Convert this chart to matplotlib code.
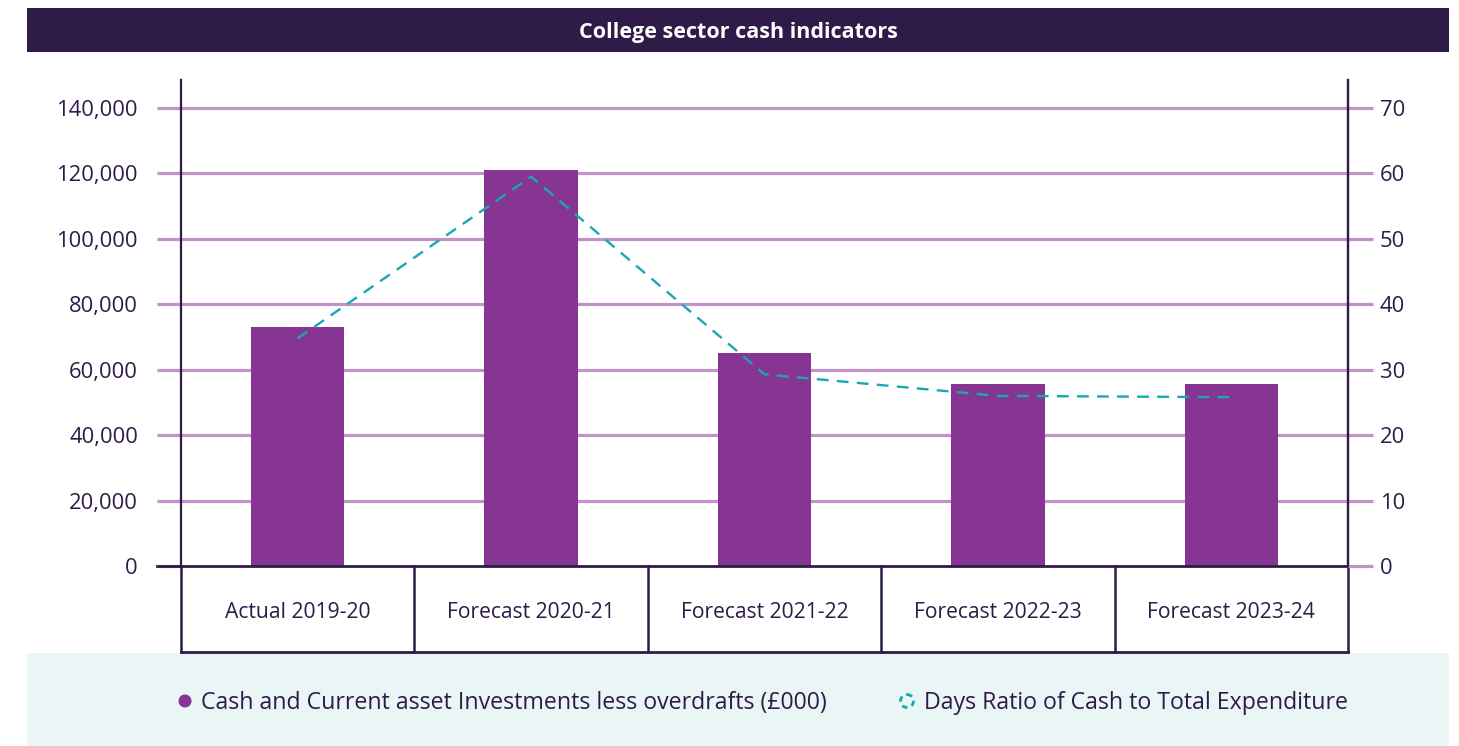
import matplotlib
matplotlib.use("Agg")
import matplotlib.pyplot as plt
from matplotlib.patches import Rectangle, Circle
from matplotlib.ticker import FuncFormatter
import numpy as np

plt.rcParams['font.family'] = ['Open Sans', 'DejaVu Sans']

categories = ["Actual 2019-20", "Forecast 2020-21", "Forecast 2021-22",
              "Forecast 2022-23", "Forecast 2023-24"]
cash_values = [73200, 121200, 65000, 55500, 55500]
days_ratio = [34.8, 59.5, 29.3, 26.0, 25.8]
left_ticks = [0, 20000, 40000, 60000, 80000, 100000, 120000, 140000]
right_ticks = [0, 10, 20, 30, 40, 50, 60, 70]
title = "College sector cash indicators"
legend_labels = ["Cash and Current asset Investments less overdrafts (£000)",
                 "Days Ratio of Cash to Total Expenditure"]

DARK = "#2F1B47"
BAR = "#873593"
GRID = "#C193C9"
TEAL = "#19A7B1"
BAND = "#EAF6F6"

W, H = 1459, 746
fig = plt.figure(figsize=(W / 100, H / 100), dpi=100)
fig.patch.set_facecolor("white")

def fx(px):
    return px / W

def fy(py):
    return 1 - py / H

# Title bar
tb = fig.add_axes([fx(27), fy(52), fx(1449) - fx(27), fy(8) - fy(52)])
tb.set_xlim(0, 1); tb.set_ylim(0, 1); tb.axis("off")
tb.add_patch(Rectangle((0, 0), 1, 1, facecolor=DARK, edgecolor="none"))
tb.text(0.5, 0.45, title, color="white", fontsize=15.5, fontweight="bold",
        ha="center", va="center")

# Legend band
lb = fig.add_axes([fx(27), fy(746), fx(1449) - fx(27), fy(653) - fy(746)])
lb.axis("off")
lb.add_patch(Rectangle((27, 653), 1422, 93, facecolor=BAND, edgecolor="none"))
lb.set_aspect("equal", adjustable="datalim")
lb.set_xlim(27, 1449); lb.set_ylim(746, 653)
lb.add_patch(Circle((185, 701), 6.5, facecolor=BAR, edgecolor="none"))
lb.text(201, 703, legend_labels[0], color=DARK, fontsize=16.7, ha="left", va="center")
lb.add_patch(Circle((907, 701), 6.5, facecolor="none", edgecolor=TEAL,
                    linewidth=2, linestyle=(0, (2, 1.6))))
lb.text(924, 703, legend_labels[1], color=DARK, fontsize=16.7, ha="left", va="center")

# Main axes
y_top_px, y0_px, y140_px = 80, 566, 108
scale = (y0_px - y140_px) / 140000
ymax = (y0_px - y_top_px) / scale
ax = fig.add_axes([fx(181), fy(566), fx(1348) - fx(181), fy(y_top_px) - fy(566)])
ax.set_facecolor("none")
x = np.arange(len(categories))
ax.set_xlim(-0.5, len(categories) - 0.5)
ax.set_ylim(0, ymax)
ax.set_yticks(left_ticks)
ax.yaxis.set_major_formatter(FuncFormatter(lambda v, p: f"{int(v):,}"))
for t in left_ticks[1:]:
    ax.axhline(t, color=GRID, linewidth=2.3, zorder=0.5)
ax.bar(x, cash_values, width=0.4, color=BAR, zorder=2)
ax.set_xticks([])
ax.spines["top"].set_visible(False)
ax.spines["left"].set_color(DARK); ax.spines["left"].set_linewidth(1.6)
ax.spines["right"].set_color(DARK); ax.spines["right"].set_linewidth(1.6)
ax.spines["bottom"].set_color(DARK); ax.spines["bottom"].set_linewidth(2)
ax.tick_params(axis="y", direction="out", length=17, width=2.3, color=GRID,
               labelsize=15.8, labelcolor=DARK, pad=14)

ax2 = ax.twinx()
ax2.set_ylim(0, ymax / 2000)
ax2.set_yticks(right_ticks)
ax2.plot(x, days_ratio, color=TEAL, linewidth=1.7, linestyle=(0, (5, 3.5)), zorder=3)
for s in ["top", "left", "bottom"]:
    ax2.spines[s].set_visible(False)
ax2.spines["right"].set_color(DARK); ax2.spines["right"].set_linewidth(1.6)
ax2.tick_params(axis="y", direction="out", length=18, width=2.3, color=GRID,
                labelsize=15.8, labelcolor=DARK, pad=5)

# short dark stub at zero on the left
ax.plot([-0.5 - 24 / 234, -0.5], [0, 0], color=DARK, linewidth=2, clip_on=False, zorder=4)

# Category boxes
box_bottom = (y0_px - 652) / (y0_px - y_top_px)
trans = ax.get_xaxis_transform()
bounds = np.arange(len(categories) + 1) - 0.5
for b in bounds:
    ax.plot([b, b], [0, box_bottom], color=DARK, linewidth=1.8,
            transform=trans, clip_on=False)
ax.plot([bounds[0], bounds[-1]], [box_bottom, box_bottom], color=DARK, linewidth=2,
        transform=trans, clip_on=False)
for i, c in enumerate(categories):
    ax.text(i, box_bottom * 0.535, c, transform=trans, ha="center", va="center",
            fontsize=15.2, color=DARK)

fig.savefig("out.png", dpi=100)
